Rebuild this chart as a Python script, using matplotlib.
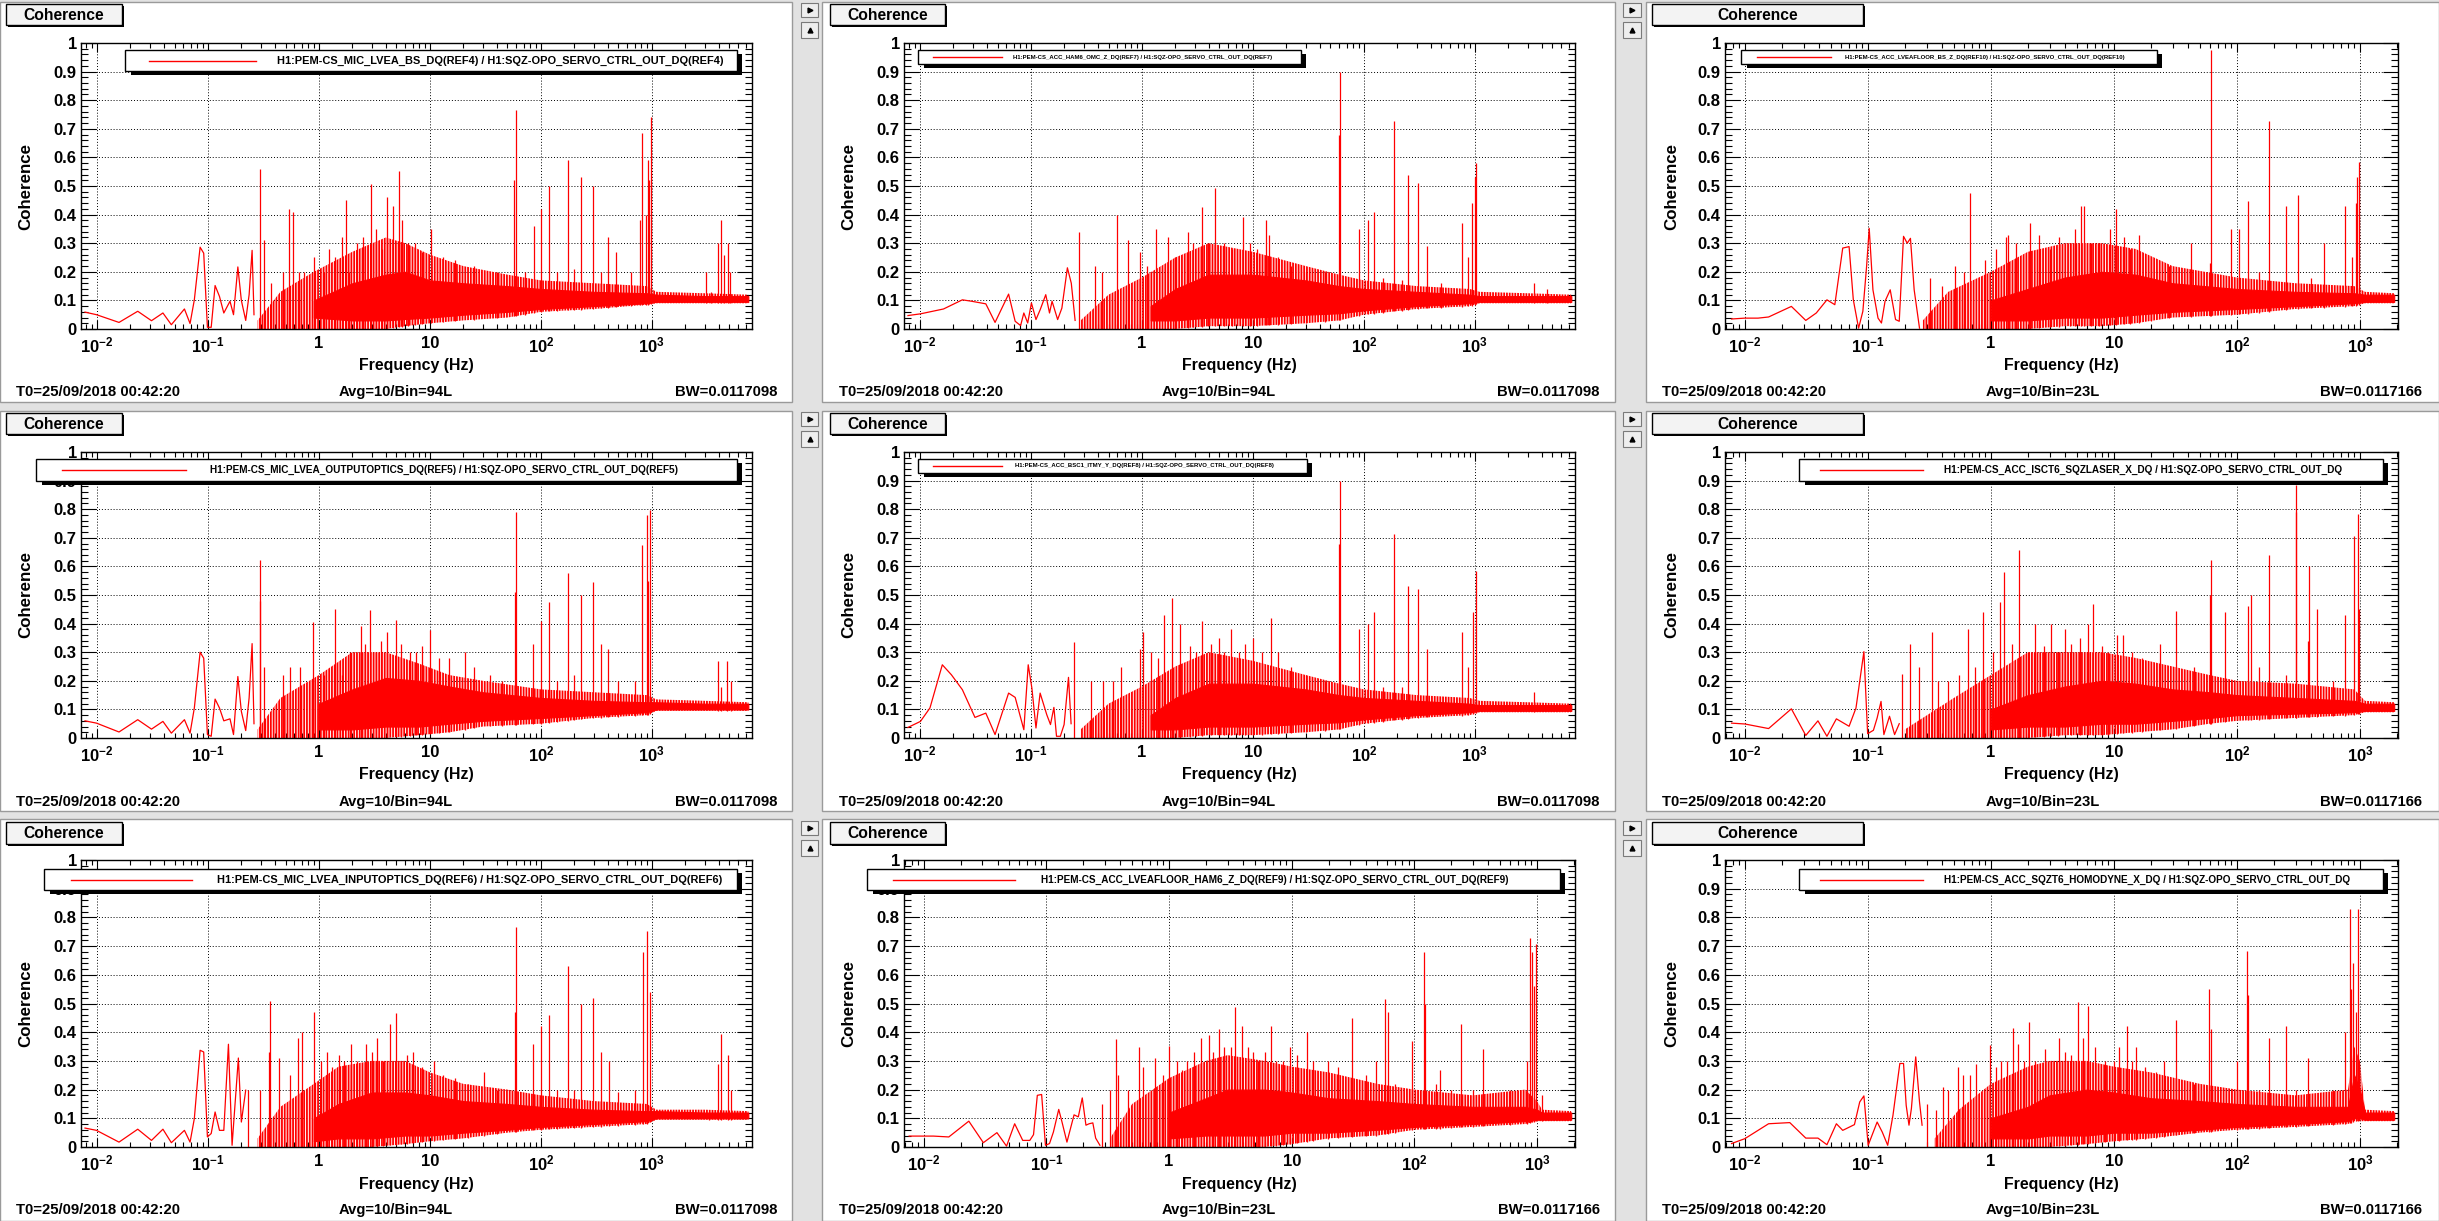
# Coherence grid (DTT style), 3x3 panels of H1 PEM channels vs SQZ OPO servo

import numpy as np
import matplotlib
matplotlib.use("Agg")
import matplotlib.pyplot as plt
from matplotlib import font_manager
from matplotlib.patches import Rectangle
from matplotlib.lines import Line2D
from matplotlib.ticker import FixedLocator, FuncFormatter, LogLocator, MultipleLocator, NullFormatter

W, H = 2439, 1221

# ── data ─────────────────────────────────────────────────────────────────────
# lf_* : low-frequency part drawn as a plain line
# spk_*: tall lines, grass_*: medium lines inside the noisy band
# core_* / fr_*: dense band envelopes (solid core and ragged fringe)

a_lf_f = [0.0078, 0.0099, 0.0158, 0.0233, 0.031, 0.0393, 0.0468, 0.0614, 0.069, 0.0754, 0.085, 0.0916,
          0.0989, 0.107, 0.116, 0.127, 0.139, 0.158, 0.170, 0.186, 0.20, 0.219, 0.235, 0.25, 0.26]
a_lf_c = [0.059, 0.05, 0.023, 0.062, 0.029, 0.056, 0.015, 0.07, 0.019, 0.102, 0.286, 0.265,
          0.006, 0.006, 0.152, 0.114, 0.056, 0.097, 0.05, 0.217, 0.10, 0.03, 0.12, 0.275, 0.05]
a_spk_f = [0.294, 0.317, 0.37, 0.47, 0.533, 0.58, 0.66, 0.74, 0.9, 1.24, 1.63, 1.76, 1.87, 2.5, 2.96,
           4.1, 4.66, 5.25, 7.4, 10.2, 57.6, 60, 72, 86, 101, 118, 176, 232, 297, 400, 480,
           790, 820, 880, 920, 945, 980, 3050, 3380, 3930, 4230, 4450, 4880, 5080]
a_spk_c = [0.558, 0.31, 0.16, 0.2, 0.42, 0.41, 0.2, 0.2, 0.25, 0.28, 0.32, 0.45, 0.2, 0.32, 0.506,
           0.46, 0.43, 0.552, 0.3, 0.35, 0.52, 0.765, 0.2, 0.36, 0.42, 0.50, 0.59, 0.53, 0.50, 0.32, 0.27,
           0.38, 0.687, 0.4, 0.59, 0.52, 0.74, 0.2, 0.13, 0.3, 0.38, 0.26, 0.3, 0.2]
a_grass_f = [1.1, 1.4, 2.2, 3.3, 3.7, 5.6, 6.3, 8.5, 13, 17, 25, 40, 140, 200, 350, 650]
a_grass_c = [0.2, 0.25, 0.3, 0.35, 0.28, 0.38, 0.3, 0.27, 0.25, 0.24, 0.22, 0.2, 0.2, 0.21, 0.2, 0.2]
a_core_f = [0.9, 2, 4, 6, 10, 20, 50, 100, 300, 900, 1100, 3000, 7400]
a_core_lo = [0.04, 0.03, 0.03, 0.035, 0.04, 0.05, 0.06, 0.07, 0.08, 0.09, 0.095, 0.095, 0.095]
a_core_hi = [0.1, 0.16, 0.19, 0.2, 0.17, 0.16, 0.15, 0.14, 0.13, 0.125, 0.12, 0.115, 0.115]
a_fr_f = [0.28, 0.45, 0.9, 2, 4, 6, 10, 20, 50, 100, 300, 900, 1100, 3000, 7400]
a_fr_lo = [0.0, 0.0, 0.0, 0.0, 0.0, 0.01, 0.02, 0.03, 0.04, 0.06, 0.07, 0.085, 0.09, 0.09, 0.09]
a_fr_hi = [0.03, 0.13, 0.2, 0.27, 0.32, 0.3, 0.26, 0.22, 0.19, 0.17, 0.16, 0.15, 0.13, 0.125, 0.12]

b_lf_f = [0.0078, 0.0101, 0.0163, 0.0241, 0.0292, 0.0392, 0.0475, 0.0629, 0.0721, 0.0807, 0.0863, 0.0935,
          0.101, 0.111, 0.121, 0.136, 0.147, 0.155, 0.174, 0.19, 0.213, 0.231, 0.25]
b_lf_c = [0.047, 0.053, 0.07, 0.102, 0.097, 0.088, 0.023, 0.122, 0.027, 0.012, 0.056, 0.021,
          0.091, 0.033, 0.067, 0.12, 0.056, 0.097, 0.033, 0.073, 0.214, 0.16, 0.03]
b_spk_f = [0.273, 0.375, 0.44, 0.6, 0.75, 0.97, 1.33, 1.72, 2.6, 3.5, 4.59, 8.1, 13.1, 14,
           60, 61.5, 91, 108, 123, 186, 249, 308, 373, 760, 870, 940, 995, 1030, 3400, 4500]
b_spk_c = [0.338, 0.22, 0.2, 0.40, 0.31, 0.27, 0.35, 0.32, 0.34, 0.426, 0.492, 0.39, 0.38, 0.33,
           0.68, 0.899, 0.35, 0.38, 0.41, 0.726, 0.54, 0.51, 0.29, 0.37, 0.25, 0.44, 0.53, 0.58, 0.16, 0.14]
b_grass_f = [1.1, 2.0, 2.9, 3.9, 5.5, 6.5, 9.5, 11, 17, 22, 30, 45, 150, 220, 500]
b_grass_c = [0.22, 0.25, 0.3, 0.3, 0.3, 0.28, 0.3, 0.28, 0.25, 0.22, 0.2, 0.2, 0.18, 0.17, 0.16]
b_core_f = [1.2, 2, 4, 10, 30, 60, 100, 300, 900, 1100, 3000, 7400]
b_core_lo = [0.03, 0.03, 0.04, 0.04, 0.05, 0.055, 0.065, 0.08, 0.09, 0.095, 0.095, 0.095]
b_core_hi = [0.08, 0.14, 0.19, 0.19, 0.17, 0.15, 0.14, 0.13, 0.12, 0.115, 0.115, 0.115]
b_fr_f = [0.28, 0.5, 1, 2, 4, 10, 30, 60, 100, 300, 900, 1100, 3000, 7400]
b_fr_lo = [0.0, 0.0, 0.0, 0.0, 0.01, 0.01, 0.02, 0.03, 0.05, 0.07, 0.08, 0.09, 0.09, 0.09]
b_fr_hi = [0.03, 0.12, 0.18, 0.25, 0.3, 0.27, 0.22, 0.19, 0.17, 0.15, 0.14, 0.13, 0.125, 0.12]

c_lf_f = [0.0078, 0.01, 0.0128, 0.0156, 0.0239, 0.0313, 0.0381, 0.0465, 0.0539, 0.0625, 0.0704, 0.0762,
          0.0841, 0.0911, 0.0977, 0.1026, 0.11, 0.121, 0.129, 0.138, 0.152, 0.168, 0.18, 0.195, 0.209,
          0.222, 0.238, 0.263]
c_lf_c = [0.035, 0.038, 0.038, 0.042, 0.079, 0.03, 0.056, 0.102, 0.085, 0.283, 0.288, 0.102,
          0.003, 0.062, 0.219, 0.352, 0.137, 0.038, 0.021, 0.097, 0.137, 0.033, 0.027, 0.324, 0.30,
          0.317, 0.137, 0.003]
c_spk_f = [0.32, 0.51, 0.673, 0.9, 1.32, 1.37, 2.1, 2.44, 4.4, 5.38, 5.76, 9.3, 10.5, 16,
           42, 61, 62.1, 90, 105, 124, 184, 249, 314, 510, 760, 860, 925, 955, 985]
c_spk_c = [0.18, 0.22, 0.474, 0.24, 0.32, 0.33, 0.37, 0.33, 0.3, 0.43, 0.43, 0.35, 0.419, 0.33,
           0.3, 0.23, 0.977, 0.35, 0.35, 0.448, 0.726, 0.43, 0.47, 0.3, 0.43, 0.25, 0.44, 0.53, 0.585]
c_grass_f = [0.4, 0.6, 1.1, 1.6, 3.0, 3.6, 4.8, 6.5, 7.5, 12, 13.5, 20, 28, 150, 400]
c_grass_c = [0.15, 0.2, 0.28, 0.3, 0.28, 0.32, 0.35, 0.3, 0.3, 0.32, 0.28, 0.25, 0.22, 0.2, 0.18]
c_core_f = [1, 2, 4, 8, 15, 30, 100, 300, 900, 1100, 1900]
c_core_lo = [0.03, 0.03, 0.04, 0.04, 0.05, 0.06, 0.07, 0.08, 0.09, 0.095, 0.095]
c_core_hi = [0.1, 0.14, 0.18, 0.2, 0.19, 0.16, 0.14, 0.13, 0.125, 0.12, 0.12]
c_fr_f = [0.28, 0.45, 1, 2, 4, 8, 15, 30, 100, 300, 900, 1100, 1900]
c_fr_lo = [0.0, 0.0, 0.0, 0.0, 0.01, 0.01, 0.02, 0.04, 0.05, 0.07, 0.08, 0.09, 0.09]
c_fr_hi = [0.03, 0.13, 0.2, 0.27, 0.3, 0.3, 0.28, 0.22, 0.18, 0.16, 0.15, 0.13, 0.125]

d_lf_f = [0.0078, 0.0099, 0.0158, 0.0233, 0.031, 0.0393, 0.0468, 0.0614, 0.069, 0.0754, 0.085, 0.0916,
          0.0989, 0.107, 0.116, 0.127, 0.139, 0.158, 0.170, 0.186, 0.20, 0.219, 0.235, 0.25, 0.26]
d_lf_c = [0.06, 0.052, 0.021, 0.064, 0.031, 0.058, 0.017, 0.064, 0.017, 0.105, 0.30, 0.279,
          0.012, 0.006, 0.136, 0.105, 0.06, 0.067, 0.012, 0.215, 0.093, 0.026, 0.14, 0.33, 0.05]
d_spk_f = [0.294, 0.297, 0.317, 0.47, 0.55, 0.68, 0.88, 1.41, 1.63, 2.38, 2.89, 4.1, 4.97, 6.67, 9.96,
           15, 20.8, 58, 60, 85, 100, 118, 176, 232, 297, 350, 400, 811, 900, 920, 970,
           3930, 4230, 4780, 5160]
d_spk_c = [0.622, 0.48, 0.25, 0.22, 0.25, 0.25, 0.405, 0.451, 0.22, 0.39, 0.448, 0.37, 0.413, 0.3, 0.376,
           0.28, 0.3, 0.51, 0.791, 0.33, 0.41, 0.474, 0.576, 0.5, 0.545, 0.33, 0.31, 0.674, 0.78, 0.55, 0.797,
           0.27, 0.18, 0.27, 0.2]
d_grass_f = [1.1, 1.9, 2.6, 3.3, 3.6, 5.5, 7.5, 8.5, 12, 25, 35, 45, 140, 200, 500, 700]
d_grass_c = [0.22, 0.3, 0.33, 0.3, 0.34, 0.33, 0.3, 0.32, 0.28, 0.25, 0.22, 0.2, 0.2, 0.22, 0.2, 0.2]
d_core_f = [1, 2, 4, 8, 15, 30, 100, 300, 900, 1100, 3000, 7400]
d_core_lo = [0.03, 0.03, 0.04, 0.04, 0.05, 0.06, 0.07, 0.08, 0.09, 0.1, 0.1, 0.1]
d_core_hi = [0.12, 0.17, 0.21, 0.2, 0.18, 0.16, 0.14, 0.13, 0.125, 0.125, 0.12, 0.12]
d_fr_f = [0.28, 0.45, 1, 2, 4, 8, 15, 30, 100, 300, 900, 1100, 3000, 7400]
d_fr_lo = [0.0, 0.0, 0.0, 0.0, 0.0, 0.01, 0.02, 0.04, 0.05, 0.07, 0.08, 0.095, 0.095, 0.095]
d_fr_hi = [0.03, 0.14, 0.22, 0.3, 0.3, 0.26, 0.22, 0.2, 0.17, 0.16, 0.15, 0.135, 0.13, 0.125]

e_lf_f = [0.0078, 0.0101, 0.0123, 0.0159, 0.0192, 0.0241, 0.0313, 0.0392, 0.0475, 0.0629, 0.0721, 0.0863,
          0.0945, 0.102, 0.111, 0.121, 0.139, 0.15, 0.161, 0.17, 0.184, 0.199, 0.218, 0.23]
e_lf_c = [0.037, 0.058, 0.105, 0.256, 0.221, 0.169, 0.072, 0.087, 0.012, 0.157, 0.142, 0.029,
          0.256, 0.174, 0.035, 0.157, 0.081, 0.047, 0.107, 0.006, 0.006, 0.047, 0.212, 0.05]
e_spk_f = [0.244, 0.35, 0.55, 0.97, 1.03, 1.57, 1.86, 2.2, 3.5, 6.3, 10.1, 14.7, 60, 61.5, 91, 108,
           123, 186, 249, 308, 373, 760, 870, 960, 1030, 3400]
e_spk_c = [0.335, 0.2, 0.2, 0.31, 0.37, 0.43, 0.488, 0.4, 0.41, 0.38, 0.35, 0.421, 0.68, 0.9, 0.38, 0.4,
           0.44, 0.715, 0.53, 0.52, 0.31, 0.37, 0.25, 0.44, 0.585, 0.16]
e_grass_f = [0.45, 0.65, 1.2, 1.4, 2.7, 3.1, 4.2, 5, 5.5, 7.5, 8.5, 12, 17, 22, 30, 45, 150, 220]
e_grass_c = [0.2, 0.25, 0.3, 0.28, 0.32, 0.3, 0.33, 0.35, 0.3, 0.3, 0.33, 0.3, 0.3, 0.25, 0.22, 0.2, 0.18, 0.18]
e_core_f = [1.2, 2, 4, 10, 30, 60, 100, 300, 900, 1100, 3000, 7400]
e_core_lo = [0.03, 0.03, 0.04, 0.04, 0.05, 0.055, 0.065, 0.08, 0.09, 0.095, 0.095, 0.095]
e_core_hi = [0.08, 0.14, 0.19, 0.19, 0.17, 0.15, 0.14, 0.13, 0.12, 0.115, 0.115, 0.115]
e_fr_f = [0.28, 0.5, 1, 2, 4, 10, 30, 60, 100, 300, 900, 1100, 3000, 7400]
e_fr_lo = [0.0, 0.0, 0.0, 0.0, 0.01, 0.01, 0.02, 0.03, 0.05, 0.07, 0.08, 0.09, 0.09, 0.09]
e_fr_hi = [0.03, 0.12, 0.18, 0.25, 0.3, 0.27, 0.22, 0.19, 0.17, 0.15, 0.14, 0.13, 0.125, 0.12]

f_lf_f = [0.0078, 0.01, 0.0156, 0.0239, 0.0313, 0.0393, 0.0465, 0.0555, 0.0704, 0.0801, 0.0885, 0.0929,
          0.0996, 0.111, 0.119, 0.128, 0.135, 0.15, 0.165, 0.18]
f_lf_c = [0.052, 0.049, 0.033, 0.102, 0.009, 0.06, 0.006, 0.067, 0.041, 0.105, 0.238, 0.302,
          0.015, 0.027, 0.07, 0.128, 0.012, 0.076, 0.012, 0.05]
f_spk_f = [0.19, 0.22, 0.26, 0.33, 0.37, 0.65, 0.86, 1.18, 1.28, 1.49, 1.69, 2.3, 3.1, 4.0, 6.2,
           6.76, 10.7, 11.9, 23.7, 32, 60, 62, 80, 124, 130, 184, 302, 305, 380, 386,
           450, 760, 890, 960, 985]
f_spk_c = [0.225, 0.33, 0.25, 0.37, 0.2, 0.38, 0.44, 0.477, 0.58, 0.33, 0.657, 0.4, 0.4, 0.38, 0.4,
           0.469, 0.36, 0.36, 0.33, 0.444, 0.5, 0.622, 0.44, 0.46, 0.5, 0.64, 0.79, 0.884, 0.34, 0.6,
           0.45, 0.43, 0.706, 0.783, 0.45]
f_grass_f = [0.45, 0.55, 0.75, 1.05, 2.0, 2.7, 3.5, 4.5, 5.3, 8, 9, 14, 17, 45, 150, 250, 600]
f_grass_c = [0.2, 0.22, 0.25, 0.3, 0.3, 0.32, 0.3, 0.33, 0.35, 0.32, 0.3, 0.3, 0.28, 0.25, 0.25, 0.22, 0.2]
f_core_f = [1, 2, 4, 8, 15, 30, 60, 100, 300, 900, 1100, 1900]
f_core_lo = [0.03, 0.04, 0.04, 0.05, 0.05, 0.06, 0.07, 0.08, 0.085, 0.09, 0.095, 0.095]
f_core_hi = [0.1, 0.15, 0.18, 0.2, 0.19, 0.17, 0.16, 0.15, 0.14, 0.13, 0.12, 0.12]
f_fr_f = [0.2, 0.5, 1, 2, 4, 8, 15, 30, 60, 100, 300, 900, 1100, 1900]
f_fr_lo = [0.0, 0.0, 0.0, 0.0, 0.01, 0.01, 0.02, 0.03, 0.05, 0.06, 0.07, 0.08, 0.09, 0.09]
f_fr_hi = [0.03, 0.14, 0.22, 0.3, 0.3, 0.3, 0.28, 0.25, 0.22, 0.2, 0.19, 0.17, 0.13, 0.125]

g_lf_f = [0.0078, 0.0099, 0.0158, 0.0233, 0.031, 0.0393, 0.0468, 0.0614, 0.069, 0.0754, 0.085, 0.0916,
          0.0989, 0.107, 0.116, 0.127, 0.139, 0.153, 0.165, 0.188, 0.20, 0.219]
g_lf_c = [0.066, 0.058, 0.017, 0.062, 0.023, 0.062, 0.015, 0.058, 0.017, 0.099, 0.337, 0.331,
          0.035, 0.047, 0.122, 0.058, 0.058, 0.358, 0.006, 0.31, 0.087, 0.198]
g_spk_f = [0.23, 0.294, 0.357, 0.365, 0.44, 0.65, 0.70, 0.9, 1.18, 1.51, 1.96, 2.65, 3.37, 4.37, 4.97,
           7.04, 10.8, 30.6, 58, 60, 85, 100, 118, 176, 232, 297, 350, 410, 826, 900,
           970, 3250, 3930, 4230, 4830, 5200]
g_spk_c = [0.2, 0.2, 0.33, 0.509, 0.31, 0.38, 0.4, 0.469, 0.33, 0.32, 0.36, 0.36, 0.38, 0.43, 0.467,
           0.33, 0.3, 0.26, 0.47, 0.765, 0.36, 0.42, 0.459, 0.63, 0.5, 0.52, 0.33, 0.3, 0.68, 0.753,
           0.54, 0.1, 0.29, 0.395, 0.32, 0.2]
g_grass_f = [0.55, 1.05, 1.3, 1.7, 2.2, 3, 3.8, 5.5, 6.2, 8.5, 13, 17, 22, 40, 140, 200, 500, 700]
g_grass_c = [0.25, 0.3, 0.28, 0.3, 0.3, 0.33, 0.3, 0.3, 0.32, 0.28, 0.25, 0.24, 0.22, 0.2, 0.2, 0.2, 0.19, 0.2]
g_core_f = [0.9, 1.5, 3, 6, 10, 20, 50, 100, 300, 900, 1100, 3000, 7400]
g_core_lo = [0.02, 0.03, 0.03, 0.04, 0.04, 0.05, 0.06, 0.07, 0.08, 0.09, 0.1, 0.1, 0.1]
g_core_hi = [0.1, 0.15, 0.19, 0.19, 0.18, 0.16, 0.15, 0.14, 0.13, 0.125, 0.125, 0.12, 0.12]
g_fr_f = [0.28, 0.45, 0.9, 1.5, 3, 6, 10, 20, 50, 100, 300, 900, 1100, 3000, 7400]
g_fr_lo = [0.0, 0.0, 0.0, 0.0, 0.0, 0.01, 0.02, 0.03, 0.05, 0.06, 0.07, 0.08, 0.095, 0.095, 0.095]
g_fr_hi = [0.03, 0.14, 0.22, 0.28, 0.3, 0.3, 0.26, 0.22, 0.2, 0.18, 0.16, 0.15, 0.13, 0.13, 0.125]

h_lf_f = [0.0076, 0.0096, 0.012, 0.016, 0.0233, 0.0306, 0.0395, 0.0473, 0.0551, 0.0641, 0.0732, 0.0785,
          0.0843, 0.0914, 0.0982, 0.106, 0.114, 0.126, 0.134, 0.147, 0.168, 0.182, 0.196, 0.21, 0.223,
          0.239, 0.252, 0.273]
h_lf_c = [0.038, 0.038, 0.038, 0.035, 0.09, 0.015, 0.05, 0.003, 0.081, 0.023, 0.023, 0.043,
          0.18, 0.183, 0.006, 0.012, 0.052, 0.131, 0.087, 0.017, 0.112, 0.105, 0.171, 0.076, 0.081,
          0.084, 0.031, 0.006]
h_spk_f = [0.285, 0.33, 0.37, 0.385, 0.46, 0.57, 0.61, 0.77, 1.0, 1.28, 1.59, 1.82, 2.12, 2.54, 3.44,
           3.96, 5.27, 6.8, 9.7, 13.4, 19.6, 31, 49, 58, 61, 95, 119.5, 121, 162, 242,
           364, 830, 880, 905, 950, 975, 1100]
h_spk_c = [0.15, 0.2, 0.378, 0.25, 0.2, 0.35, 0.28, 0.31, 0.351, 0.27, 0.33, 0.38, 0.39, 0.41, 0.488,
           0.42, 0.3, 0.42, 0.35, 0.4, 0.3, 0.45, 0.3, 0.517, 0.47, 0.37, 0.68, 0.5, 0.27, 0.43,
           0.34, 0.3, 0.729, 0.68, 0.56, 0.709, 0.18]
h_grass_f = [0.9, 1.15, 1.4, 2.3, 2.8, 3.2, 4.4, 4.8, 6, 7.5, 8.5, 11, 15, 24, 40, 70, 150, 200, 300, 600]
h_grass_c = [0.25, 0.3, 0.3, 0.33, 0.35, 0.35, 0.35, 0.33, 0.33, 0.3, 0.3, 0.32, 0.3, 0.28, 0.25, 0.22,
             0.22, 0.2, 0.2, 0.2]
h_core_f = [1, 2, 3, 6, 10, 20, 50, 100, 300, 800, 1000, 1100, 1900]
h_core_lo = [0.03, 0.04, 0.04, 0.04, 0.05, 0.05, 0.06, 0.07, 0.08, 0.09, 0.095, 0.095, 0.095]
h_core_hi = [0.12, 0.17, 0.2, 0.2, 0.19, 0.17, 0.16, 0.15, 0.14, 0.14, 0.13, 0.12, 0.12]
h_fr_f = [0.33, 0.5, 1, 2, 3, 6, 10, 20, 50, 100, 300, 800, 1000, 1100, 1900]
h_fr_lo = [0.0, 0.0, 0.0, 0.0, 0.0, 0.0, 0.01, 0.03, 0.04, 0.06, 0.07, 0.08, 0.09, 0.09, 0.09]
h_fr_hi = [0.03, 0.15, 0.24, 0.3, 0.32, 0.3, 0.28, 0.26, 0.22, 0.2, 0.18, 0.2, 0.16, 0.13, 0.125]

i_lf_f = [0.0078, 0.01, 0.0156, 0.0232, 0.0313, 0.0393, 0.0465, 0.0555, 0.0625, 0.0778, 0.0859, 0.0929,
          0.1006, 0.119, 0.131, 0.145, 0.16, 0.182, 0.195, 0.205, 0.216, 0.226, 0.245, 0.263, 0.276]
i_lf_c = [0.012, 0.029, 0.081, 0.085, 0.031, 0.031, 0.008, 0.081, 0.058, 0.078, 0.157, 0.178,
          0.006, 0.087, 0.052, 0.006, 0.11, 0.291, 0.291, 0.145, 0.076, 0.134, 0.314, 0.157, 0.076]
i_spk_f = [0.305, 0.36, 0.41, 0.54, 0.59, 0.76, 0.98, 1.22, 1.52, 1.67, 2.04, 2.74, 3.55, 5.07, 6.12,
           8.4, 12.8, 15.2, 25.7, 32, 59.7, 62, 99.3, 121.6, 124, 184, 249, 380, 760, 838,
           850, 880, 925, 970]
i_spk_c = [0.15, 0.13, 0.21, 0.28, 0.25, 0.29, 0.355, 0.3, 0.415, 0.36, 0.434, 0.34, 0.38, 0.506, 0.49,
           0.3, 0.42, 0.35, 0.3, 0.442, 0.55, 0.41, 0.3, 0.684, 0.53, 0.38, 0.42, 0.31, 0.4, 0.829,
           0.55, 0.642, 0.47, 0.831]
i_grass_f = [0.45, 0.68, 1.1, 1.35, 1.85, 2.3, 3.1, 4.0, 4.5, 5.6, 7, 10, 11, 14, 18, 22, 45, 150, 300, 600]
i_grass_c = [0.2, 0.25, 0.28, 0.3, 0.3, 0.3, 0.3, 0.33, 0.32, 0.38, 0.35, 0.3, 0.35, 0.3, 0.28, 0.26,
             0.22, 0.2, 0.2, 0.2]
i_core_f = [1, 2, 3, 6, 10, 20, 50, 100, 300, 800, 900, 1000, 1100, 1900]
i_core_lo = [0.03, 0.03, 0.04, 0.04, 0.05, 0.05, 0.06, 0.07, 0.08, 0.09, 0.1, 0.1, 0.095, 0.095]
i_core_hi = [0.1, 0.14, 0.18, 0.2, 0.19, 0.17, 0.16, 0.15, 0.14, 0.14, 0.25, 0.2, 0.12, 0.12]
i_fr_f = [0.35, 0.55, 1, 2, 3, 6, 10, 20, 50, 100, 300, 800, 900, 1000, 1100, 1900]
i_fr_lo = [0.0, 0.0, 0.0, 0.0, 0.0, 0.01, 0.02, 0.03, 0.05, 0.06, 0.07, 0.08, 0.09, 0.09, 0.09, 0.09]
i_fr_hi = [0.03, 0.13, 0.22, 0.28, 0.3, 0.3, 0.28, 0.26, 0.22, 0.2, 0.18, 0.2, 0.35, 0.3, 0.13, 0.125]

legends = [
    "H1:PEM-CS_MIC_LVEA_BS_DQ(REF4) / H1:SQZ-OPO_SERVO_CTRL_OUT_DQ(REF4)",
    "H1:PEM-CS_ACC_HAM6_OMC_Z_DQ(REF7) / H1:SQZ-OPO_SERVO_CTRL_OUT_DQ(REF7)",
    "H1:PEM-CS_ACC_LVEAFLOOR_BS_Z_DQ(REF10) / H1:SQZ-OPO_SERVO_CTRL_OUT_DQ(REF10)",
    "H1:PEM-CS_MIC_LVEA_OUTPUTOPTICS_DQ(REF5) / H1:SQZ-OPO_SERVO_CTRL_OUT_DQ(REF5)",
    "H1:PEM-CS_ACC_BSC1_ITMY_Y_DQ(REF8) / H1:SQZ-OPO_SERVO_CTRL_OUT_DQ(REF8)",
    "H1:PEM-CS_ACC_ISCT6_SQZLASER_X_DQ / H1:SQZ-OPO_SERVO_CTRL_OUT_DQ",
    "H1:PEM-CS_MIC_LVEA_INPUTOPTICS_DQ(REF6) / H1:SQZ-OPO_SERVO_CTRL_OUT_DQ(REF6)",
    "H1:PEM-CS_ACC_LVEAFLOOR_HAM6_Z_DQ(REF9) / H1:SQZ-OPO_SERVO_CTRL_OUT_DQ(REF9)",
    "H1:PEM-CS_ACC_SQZT6_HOMODYNE_X_DQ / H1:SQZ-OPO_SERVO_CTRL_OUT_DQ",
]
bins = ["94L", "94L", "23L", "94L", "94L", "23L", "94L", "23L", "23L"]
bws = {"94L": "BW=0.0117098", "23L": "BW=0.0117166"}
xmax = {"94L": 7990, "23L": 2040}
xmin = {"94L": 0.00718, "23L": 0.0069}
t0_label = "T0=25/09/2018 00:42:20"

panels = []
for p in "abcdefghi":
    g = globals()
    panels.append(dict(
        lf=(g[p + "_lf_f"], g[p + "_lf_c"]),
        spk=(g[p + "_spk_f"] + g[p + "_grass_f"], g[p + "_spk_c"] + g[p + "_grass_c"]),
        core=(g[p + "_core_f"], g[p + "_core_lo"], g[p + "_core_hi"]),
        fr=(g[p + "_fr_f"], g[p + "_fr_lo"], g[p + "_fr_hi"]),
    ))

# ── fonts ────────────────────────────────────────────────────────────────────
names = {f.name for f in font_manager.fontManager.ttflist}
NARROW = "Liberation Sans Narrow" if "Liberation Sans Narrow" in names else "Liberation Sans"
WIDE = "Liberation Sans"
plt.rcParams["font.family"] = [NARROW, "DejaVu Sans"]
plt.rcParams["font.weight"] = "bold"
plt.rcParams["mathtext.fontset"] = "custom"
plt.rcParams["mathtext.rm"] = NARROW + ":bold"
plt.rcParams["mathtext.it"] = NARROW + ":bold"
plt.rcParams["mathtext.bf"] = NARROW + ":bold"
plt.rcParams["mathtext.default"] = "rm"
plt.rcParams["hatch.linewidth"] = 1.3

RED = "#ff0000"

# ── layout (pixels of the 2439x1221 canvas) ─────────────────────────────────
col_x = [(0, 792), (822, 1615), (1646, 2439)]
row_y = [(2, 402), (411, 811), (819, 1221)]
ax_x = [(81, 752), (904, 1575), (1725, 2398)]
ax_y = [(43, 329), (452, 738), (860, 1147)]
title_x = [(6, 122), (830, 945), (1652, 1863)]
title_y = [(4, 25), (413, 434), (822, 844)]
btn_x = [(801, 818), (1623, 1641)]
foot_y = [392, 802, 1210]
foot_left = [16, 839, 1662]
foot_mid = [396, 1219, 2043]
foot_right = [777, 1600, 2422]
xlab_y = [366, 775, 1184]
ylab_x = [26, 849, 1672]
# legend: box (x0, x1, y0, y1), sample line (x0, x1), text (x0, x1)
leg_geo = [
    ((125, 737, 50, 71), (149, 256), (277, 724)),
    ((918, 1301, 50, 64), (933, 1002), (1013, 1273)),
    ((1741, 2157, 50, 64), (1757, 1831), (1844, 2126)),
    ((36, 737, 459, 481), (62, 186), (209, 680)),
    ((918, 1307, 459, 473), (933, 1002), (1015, 1274)),
    ((1799, 2383, 459, 481), (1820, 1923), (1943, 2344)),
    ((44, 737, 869, 890), (71, 192), (217, 723)),
    ((867, 1560, 869, 890), (893, 1015), (1039, 1511)),
    ((1799, 2383, 869, 890), (1820, 1923), (1943, 2351)),
]

fig = plt.figure(figsize=(W / 100, H / 100), dpi=100, facecolor="#e2e2e2")
renderer = fig.canvas.get_renderer()


def rect(x0, y0, x1, y1, **kw):
    r = Rectangle((x0 / W, 1 - y1 / H), (x1 - x0) / W, (y1 - y0) / H,
                  transform=fig.transFigure, **kw)
    fig.add_artist(r)
    return r


def fit_text(x, y, s, width, rotated=False, **kw):
    t = fig.text(x / W, 1 - y / H, s, fontsize=10, **kw)
    bb = t.get_window_extent(renderer)
    t.set_fontsize(10 * width / (bb.height if rotated else bb.width))
    return t


def xfmt(v, pos):
    e = int(round(np.log10(v)))
    if e == 0:
        return "1"
    if e == 1:
        return "10"
    return r"$10^{%d}$" % e


for k, pd_ in enumerate(panels):
    r, c = divmod(k, 3)
    # panel canvas
    rect(col_x[c][0], row_y[r][0], col_x[c][1], row_y[r][1],
         facecolor="white", edgecolor="#9a9a9a", lw=1, zorder=-5)
    # little scroll buttons on the left side of columns 2 and 3
    if c > 0:
        bx0, bx1 = btn_x[c - 1]
        top = title_y[r][0] - 1
        for (yy0, yy1), mk in [((top, top + 14), ">"), ((top + 19, top + 35), "^")]:
            rect(bx0, yy0, bx1, yy1, facecolor="#eeeeee", edgecolor="#7a7a7a", lw=0.8, zorder=-4)
            fig.add_artist(Line2D([(bx0 + bx1) / 2 / W], [1 - (yy0 + yy1) / 2 / H], marker=mk,
                                  markersize=3.5, color="black", transform=fig.transFigure, zorder=-3))
    # panel title box
    tx0, tx1 = title_x[c]
    ty0, ty1 = title_y[r]
    rect(tx0 + 2, ty0 + 2, tx1 + 2, ty1 + 2, facecolor="black", edgecolor="none", zorder=-4)
    rect(tx0, ty0, tx1, ty1, facecolor="#f3f3f3", edgecolor="black", lw=1, zorder=-3)
    fit_text((tx0 + tx1) / 2, (ty0 + ty1) / 2 + 1, "Coherence", 81, ha="center", va="center")

    # axes
    x0, x1 = ax_x[c]
    y0, y1 = ax_y[r]
    ax = fig.add_axes([x0 / W, 1 - y1 / H, (x1 - x0) / W, (y1 - y0) / H])
    ax.set_xscale("log")
    b = bins[k]
    ax.set_xlim(xmin[b], xmax[b])
    ax.set_ylim(0, 1)

    ff, flo, fhi = pd_["fr"]
    ax.fill_between(ff, flo, fhi, facecolor="none", edgecolor=RED, hatch="||||||",
                    linewidth=0, zorder=2)
    cf, clo, chi = pd_["core"]
    ax.fill_between(cf, clo, chi, color=RED, linewidth=0.8, zorder=2)
    lf_f, lf_c = pd_["lf"]
    ax.plot(lf_f, lf_c, color=RED, lw=0.9, zorder=2)
    sf, sc = pd_["spk"]
    base = np.interp(np.log10(sf), np.log10(ff), flo)
    ax.vlines(sf, base, sc, color=RED, lw=0.9, zorder=2)

    ax.xaxis.set_major_locator(FixedLocator(10.0 ** np.arange(-3, 5)))
    ax.xaxis.set_minor_locator(LogLocator(base=10, subs=np.arange(2, 10), numticks=100))
    ax.xaxis.set_major_formatter(FuncFormatter(xfmt))
    ax.xaxis.set_minor_formatter(NullFormatter())
    ax.yaxis.set_major_locator(MultipleLocator(0.1))
    ax.yaxis.set_minor_locator(MultipleLocator(0.02))
    ax.yaxis.set_major_formatter(FuncFormatter(lambda v, pos: "%g" % round(v, 2)))
    ax.tick_params(which="both", direction="in", top=True, right=True, width=0.8, colors="black")
    ax.tick_params(axis="x", which="major", length=6.5, pad=5, labelsize=12)
    ax.tick_params(axis="x", which="minor", length=3.5)
    ax.tick_params(axis="y", which="major", length=11, pad=3, labelsize=12)
    ax.tick_params(axis="y", which="minor", length=5)
    ax.grid(True, which="major", linestyle=(0, (1, 2)), color="black", linewidth=0.7)
    for s in ax.spines.values():
        s.set_linewidth(1.0)
        s.set_zorder(3)

    # axis titles
    fit_text((x0 + x1) / 2, xlab_y[r], "Frequency (Hz)", 115, ha="center", va="center")
    fit_text(ylab_x[c], (y0 + y1) / 2, "Coherence", 87, rotated=True, rotation=90,
             ha="center", va="center", family=[WIDE, "DejaVu Sans"])

    # legend box with shadow
    (lx0, lx1, ly0, ly1), (sx0, sx1), (tx0, tx1) = leg_geo[k]
    rect(lx0 + 6, ly0 + 4, lx1 + 5, ly1 + 4, facecolor="black", edgecolor="none", zorder=5)
    rect(lx0, ly0, lx1, ly1, facecolor="white", edgecolor="black", lw=1, zorder=6)
    ym = (ly0 + ly1) / 2
    fig.add_artist(Line2D([sx0 / W, sx1 / W], [1 - ym / H, 1 - ym / H], color=RED, lw=1,
                          transform=fig.transFigure, zorder=7))
    t = fit_text((tx0 + tx1) / 2, ym, legends[k], tx1 - tx0, ha="center", va="center")
    t.set_zorder(7)

    # footer
    fit_text(foot_left[c], foot_y[r], t0_label, 164, ha="left", va="center")
    fit_text(foot_mid[c], foot_y[r], "Avg=10/Bin=" + b, 115, ha="center", va="center")
    fit_text(foot_right[c], foot_y[r], bws[b], 104, ha="right", va="center")

fig.savefig("out.png", dpi=100, facecolor=fig.get_facecolor())
print("Saved: out.png")
